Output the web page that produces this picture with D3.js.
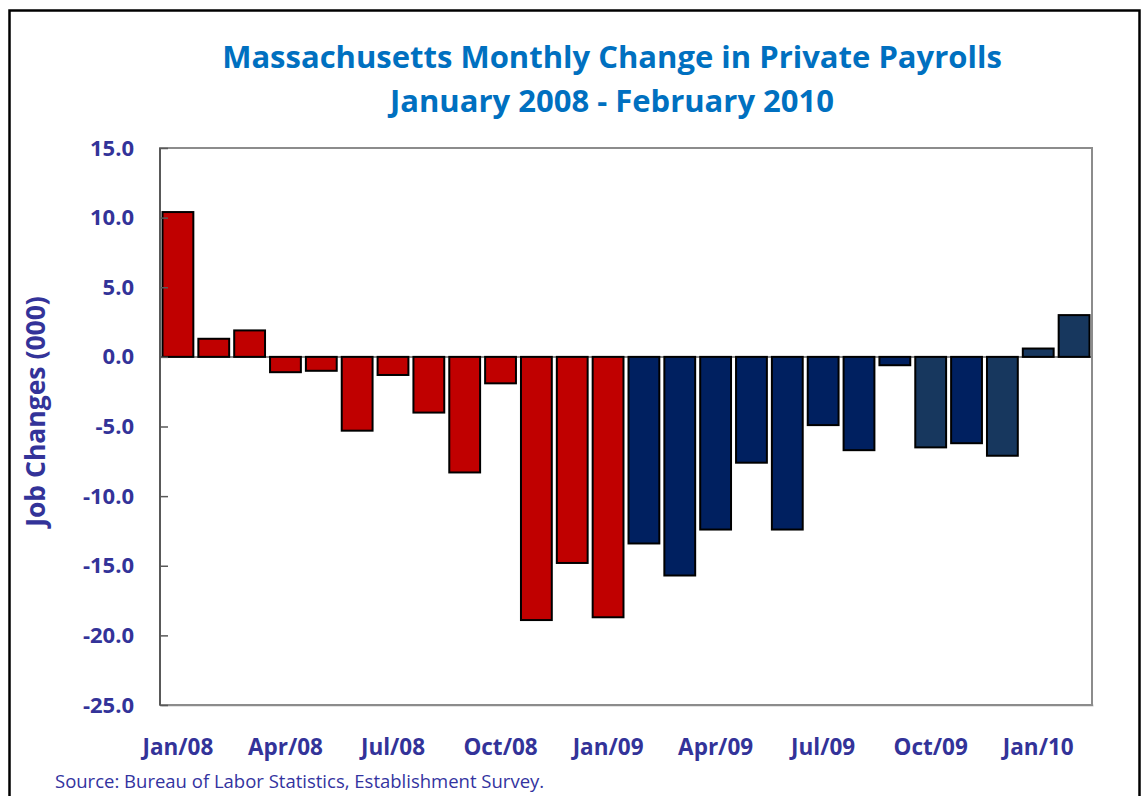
<!DOCTYPE html>
<html>
<head>
<meta charset="utf-8">
<title>Massachusetts Monthly Change in Private Payrolls</title>
<style>
	body { margin: 0; background: #fff; }
	svg { display: block; font-family: "Open Sans", sans-serif; }
	.axis .domain { display: none; }
</style>
<script src="https://cdn.jsdelivr.net/npm/d3@7/dist/d3.min.js"></script>
</head>
<body>
<svg width="1144" height="796"></svg>
<script>
// months Jan/08 .. Feb/10
var months = ["Jan/08","Feb/08","Mar/08","Apr/08","May/08","Jun/08","Jul/08","Aug/08","Sep/08","Oct/08","Nov/08","Dec/08",
	"Jan/09","Feb/09","Mar/09","Apr/09","May/09","Jun/09","Jul/09","Aug/09","Sep/09","Oct/09","Nov/09","Dec/09",
	"Jan/10","Feb/10"];
// job changes (000)
var changes = [10.4, 1.3, 1.9, -1.1, -1.0, -5.3, -1.3, -4.0, -8.3, -1.9, -18.9, -14.8,
	-18.7, -13.4, -15.7, -12.4, -7.6, -12.4, -4.9, -6.7, -0.6, -6.5, -6.2, -7.1,
	0.6, 3.0];
// colour group of each bar
var groups = ["a","a","a","a","a","a","a","a","a","a","a","a",
	"a","b","b","b","b","b","b","b","b","c","b","c",
	"c","c"];
var yTicks = [15, 10, 5, 0, -5, -10, -15, -20, -25];
var xTickLabels = ["Jan/08","Apr/08","Jul/08","Oct/08","Jan/09","Apr/09","Jul/09","Oct/09","Jan/10"];

var data = months.map(function(m, i) { return {month: m, value: changes[i], group: groups[i]}; });

var svg = d3.select("svg");
var labelColor = "#333399";

// outer frame
svg.append("rect")
	.attr("x", 9.5).attr("y", 10.5)
	.attr("width", 1130).attr("height", 800)
	.attr("fill", "none").attr("stroke", "#000").attr("stroke-width", 2.5);

var plot = {left: 160, top: 148, right: 1092, bottom: 705};

var x = d3.scaleBand()
	.domain(months)
	.range([plot.left, plot.right])
	.paddingInner(0.14)
	.paddingOuter(0.07);

var y = d3.scaleLinear()
	.domain([-25, 15])
	.range([plot.bottom, plot.top]);

var color = d3.scaleOrdinal()
	.domain(["a", "b", "c"])
	.range(["#c00000", "#002060", "#17375e"]);

// plot area box
svg.append("rect")
	.attr("x", plot.left + 1.5).attr("y", plot.bottom - 0.5)
	.attr("width", plot.right - plot.left).attr("height", 2)
	.attr("fill", "#c8c8c8");
svg.append("rect")
	.attr("x", plot.left).attr("y", plot.top)
	.attr("width", plot.right - plot.left).attr("height", plot.bottom - plot.top)
	.attr("fill", "#fff").attr("stroke", "#8c8c8c").attr("stroke-width", 2);

// zero line
svg.append("line")
	.attr("x1", plot.left).attr("x2", plot.right)
	.attr("y1", y(0)).attr("y2", y(0))
	.attr("stroke", "#8c8c8c").attr("stroke-width", 2);

// bars
svg.append("g")
	.selectAll("rect")
	.data(data)
	.enter().append("rect")
	.attr("x", function(d) { return x(d.month); })
	.attr("y", function(d) { return y(Math.max(0, d.value)); })
	.attr("width", x.bandwidth())
	.attr("height", function(d) { return Math.abs(y(d.value) - y(0)); })
	.attr("fill", function(d) { return color(d.group); })
	.attr("stroke", "#000").attr("stroke-width", 2);

// left axis line
svg.append("line")
	.attr("x1", plot.left).attr("x2", plot.left)
	.attr("y1", plot.top).attr("y2", plot.bottom)
	.attr("stroke", "#595959").attr("stroke-width", 2);

// y axis
var fmt = d3.format(".1f");
var yAxis = svg.append("g")
	.attr("class", "axis")
	.attr("transform", "translate(" + plot.left + ",0)")
	.call(d3.axisLeft(y).tickValues(yTicks).tickSize(-8).tickPadding(26)
		.tickFormat(function(d) { return fmt(d).replace("\u2212", "-"); }));
yAxis.selectAll(".tick line").attr("stroke", "#595959").attr("stroke-width", 1.5);
yAxis.selectAll(".tick text")
	.attr("fill", labelColor).attr("font-size", 22).attr("font-weight", "bold")
	.attr("font-family", "'Open Sans', sans-serif");

// x axis labels
var xAxis = svg.append("g")
	.attr("class", "axis")
	.attr("transform", "translate(0," + plot.bottom + ")")
	.call(d3.axisBottom(x).tickValues(xTickLabels).tickSize(0).tickPadding(34));
xAxis.selectAll(".tick text")
	.attr("fill", labelColor).attr("font-size", 22.5).attr("font-weight", "bold")
	.attr("font-family", "'Open Sans', sans-serif");

// axis title
svg.append("text")
	.attr("transform", "translate(45,411.5) rotate(-90)")
	.attr("text-anchor", "middle")
	.attr("fill", labelColor).attr("font-size", 26.5).attr("font-weight", "bold")
	.text("Job Changes (000)");

// title
svg.append("text")
	.attr("x", 612).attr("y", 68)
	.attr("text-anchor", "middle")
	.attr("fill", "#0070c0").attr("font-size", 31).attr("font-weight", "bold")
	.text("Massachusetts Monthly Change in Private Payrolls");
svg.append("text")
	.attr("x", 612).attr("y", 112)
	.attr("text-anchor", "middle")
	.attr("fill", "#0070c0").attr("font-size", 31).attr("font-weight", "bold")
	.text("January 2008 - February 2010");

// source
svg.append("text")
	.attr("x", 55).attr("y", 788)
	.attr("fill", "#3333a0").attr("font-size", 18.5)
	.text("Source: Bureau of Labor Statistics, Establishment Survey.");
</script>
</body>
</html>
